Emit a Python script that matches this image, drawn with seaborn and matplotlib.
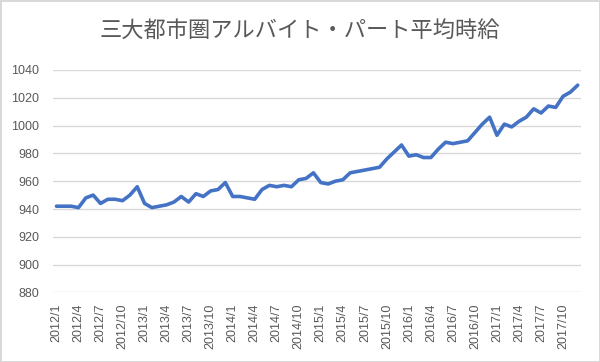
import numpy as np
import pandas as pd
import matplotlib
matplotlib.use("Agg")
import matplotlib.pyplot as plt
import seaborn as sns

# ----------------------------------
# Data: monthly average hourly wage (yen), 2012/1 - 2017/12
# ----------------------------------
months = [f"{y}/{m}" for y in range(2012, 2018) for m in range(1, 13)]

wage_2012 = [942, 942, 942, 941, 948, 950, 944, 947, 947, 946, 950, 956]
wage_2013 = [944, 941, 942, 943, 945, 949, 945, 951, 949, 953, 954, 959]
wage_2014 = [949, 949, 948, 947, 954, 957, 956, 957, 956, 961, 962, 966]
wage_2015 = [959, 958, 960, 961, 966, 967, 968, 969, 970, 976, 981, 986]
wage_2016 = [978, 979, 977, 977, 983, 988, 987, 988, 989, 995, 1001, 1006]
wage_2017 = [993, 1001, 999, 1003, 1006, 1012, 1009, 1014, 1013, 1021, 1024, 1029]

wage = wage_2012 + wage_2013 + wage_2014 + wage_2015 + wage_2016 + wage_2017
yticks = [880, 900, 920, 940, 960, 980, 1000, 1020, 1040]
title = "三大都市圏アルバイト・パート平均時給"

df = pd.DataFrame({"idx": range(len(months)), "month": months, "wage": wage})

# ----------------------------------
# Plot
# ----------------------------------
sns.set_theme(style="white")
plt.rcParams["font.family"] = ["Noto Sans CJK JP", "DejaVu Sans"]

grey = "#595959"
fig = plt.figure(figsize=(6, 3.62), dpi=100)
fig.patch.set_edgecolor("#d9d9d9")
fig.patch.set_linewidth(2)
ax = fig.add_axes([0.088, 0.192, 0.881, 0.615])

sns.lineplot(data=df, x="idx", y="wage", color="#4472c4", linewidth=2.6, ax=ax)

ax.set_ylim(880, 1040)
ax.set_yticks(yticks)
ax.set_yticklabels([str(v) for v in yticks], color=grey, fontsize=9, family=["Liberation Sans", "DejaVu Sans"])
ax.set_xlim(-0.5, len(months) - 0.5)
ax.set_xticks(df["idx"][::3])
ax.set_xticklabels(df["month"][::3], rotation=90, color=grey, fontsize=9, family=["Liberation Sans", "DejaVu Sans"])
ax.tick_params(axis="both", length=0)
ax.tick_params(axis="x", pad=8)
ax.tick_params(axis="y", pad=10)
ax.grid(axis="y", color="#d9d9d9", linewidth=1)
ax.set_axisbelow(True)
for s in ax.spines.values():
    s.set_visible(False)
ax.set_xlabel("")
ax.set_ylabel("")

fig.text(0.5, 0.915, title, ha="center", va="center", fontsize=16, color=grey)

fig.savefig("out.png", dpi=100)
